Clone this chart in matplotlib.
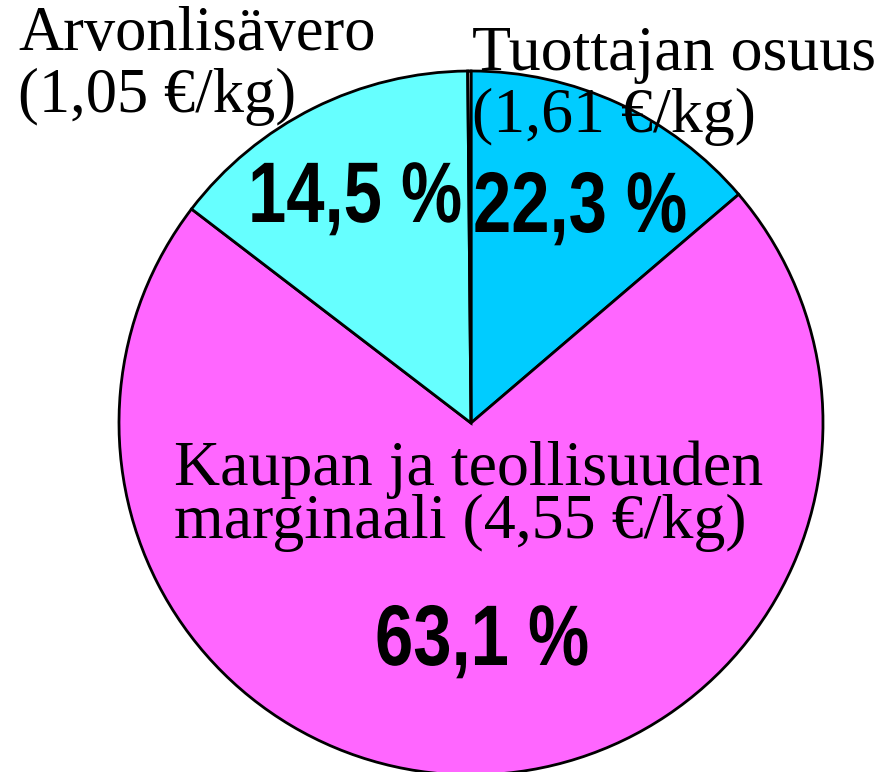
import matplotlib
matplotlib.use("Agg")
import matplotlib.pyplot as plt
from matplotlib.textpath import TextPath
from matplotlib.patches import PathPatch
from matplotlib.font_manager import FontProperties
from matplotlib.transforms import Affine2D

# wedge sizes as drawn (clockwise from top)
wedge_names = ["Tuottajan osuus", "Kaupan ja teollisuuden marginaali", "Arvonlisävero", ""]
wedge_sizes = [13.75, 71.65, 14.45, 0.15]
wedge_colors = ["#00CCFF", "#FF66FF", "#66FFFF", "#FFFFFF"]

# labels printed on the chart
share_pct = ["22,3 %", "63,1 %", "14,5 %"]
price_text = ["(1,61 €/kg)", "(4,55 €/kg)", "(1,05 €/kg)"]

W, H = 889, 772


def Y(y):
    # image row -> data y (y up)
    return H - y


def narrow_text(ax, x, y, s, size=86, squeeze=0.80):
    # bold sans squeezed sideways, stands in for a condensed face
    prop = FontProperties(family="Liberation Sans", weight="bold")
    tp = TextPath((0, 0), s, size=size, prop=prop)
    tp = Affine2D().scale(squeeze, 1).translate(x, y).transform_path(tp)
    ax.add_patch(PathPatch(tp, facecolor="black", edgecolor="none", zorder=5))


fig = plt.figure(figsize=(W / 100, H / 100), dpi=100)
ax = fig.add_axes([0, 0, 1, 1])
ax.pie(wedge_sizes, colors=wedge_colors, startangle=90, counterclock=False,
       radius=352, center=(471, Y(423)),
       wedgeprops=dict(edgecolor="black", linewidth=2.0))
ax.set_xlim(0, W)
ax.set_ylim(0, H)
ax.set_aspect("equal")
ax.axis("off")

serif = ["Liberation Serif", "DejaVu Serif"]

# category labels
ax.text(18, Y(50), wedge_names[2], family=serif, fontsize=45, ha="left", va="baseline")
ax.text(18, Y(112), price_text[2], family=serif, fontsize=45, ha="left", va="baseline")
ax.text(472, Y(70), wedge_names[0], family=serif, fontsize=46, ha="left", va="baseline")
ax.text(472, Y(132), price_text[0], family=serif, fontsize=46, ha="left", va="baseline")
ax.text(174, Y(485), "Kaupan ja teollisuuden", family=serif, fontsize=46,
        ha="left", va="baseline")
ax.text(174, Y(538), "marginaali " + price_text[1], family=serif, fontsize=46,
        ha="left", va="baseline")

# percentages
narrow_text(ax, 248, Y(222), share_pct[2])
narrow_text(ax, 473, Y(232), share_pct[0])
narrow_text(ax, 375, Y(665), share_pct[1])

fig.savefig("out.png", dpi=100)
